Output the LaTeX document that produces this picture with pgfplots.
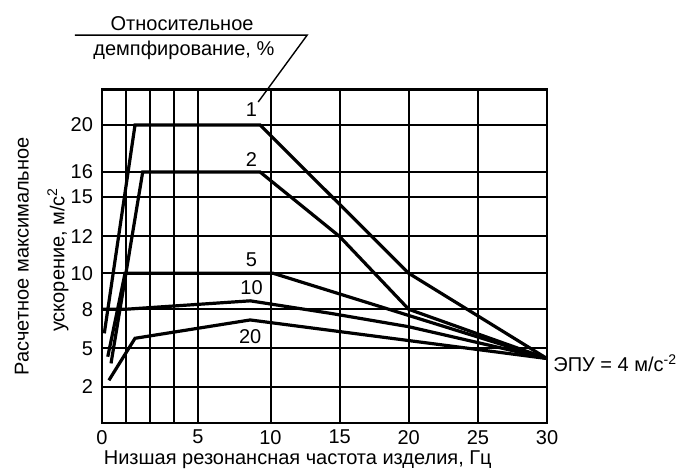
\documentclass[border=0pt]{standalone}
\usepackage{fontspec}
\setmainfont{Liberation Sans}
\usepackage{pgfplots}
\pgfplotsset{compat=1.18}
\begin{document}
\begin{tikzpicture}[font=\fontsize{10}{12}\selectfont]
\useasboundingbox (-51pt,-23.5pt) rectangle (296.5pt,211.5pt);
\begin{axis}[
  scale only axis, width=222.5pt, height=166.75pt,
  at={(0,0)}, anchor=south west,
  x coord trafo/.code={\pgfmathparse{#1<5 ? #1*19.2 : (#1<10 ? 96+(#1-5)*14.5 : 168.5+(#1-10)*13.825)}},
  y coord trafo/.code={\pgfmathparse{#1<5 ? 36.3+(#1-2)*12.8 : (#1<8 ? 74.7+(#1-5)*13 : (#1<10 ? 113.7+(#1-8)*18 : (#1<12 ? 149.7+(#1-10)*18.4 : (#1<15 ? 186.5+(#1-12)*13.17 : (#1<16 ? 226+(#1-15)*25 : 251+(#1-16)*11.75)))))}},
  xmin=0, xmax=30, ymin=-0.836, ymax=23.021,
  axis line style={line width=1.1pt},
  xtick={0,5,10,15,20,25,30}, xticklabels={0,5,10,15,20,25,30},
  ytick={2,5,8,10,12,15,16,20}, yticklabels={2,5,8,10,12,15,16,20},
  yticklabel style={xshift=-1pt},
  extra x ticks={1.25,2.5,3.75}, extra x tick labels={},
  extra x tick style={grid=major},
  grid=major, major grid style={black, line width=1pt},
  major tick length=0pt,
  clip=false,
]
\addplot[black, line width=1.6pt] coordinates {(0.12,6.15) (1.72,20) (9.28,20) (20,10) (30,4.2)};
\addplot[black, line width=1.6pt] coordinates {(0.47,3.82) (2.12,16) (9.28,16) (15,12) (20,8) (30,4.2)};
\addplot[black, line width=1.6pt] coordinates {(0.3,4.34) (1.2,10) (10.2,10) (30,4.2)};
\addplot[black, line width=1.6pt] coordinates {(0,8) (1.2,8) (8.6,8.47) (14.33,7.69) (20,6.66) (30,4.2)};
\addplot[black, line width=1.6pt] coordinates {(0.36,2.5) (1.72,5.77) (8.6,7.18) (30,4.2)};
\node at (rel axis cs:0.336,0.939) {1};
\node at (rel axis cs:0.336,0.789) {2};
\node at (rel axis cs:0.336,0.489) {5};
\node at (rel axis cs:0.336,0.405) {10};
\node at (rel axis cs:0.333,0.259) {20};
\node at (rel axis cs:0.18,1.199) {Относительное};
\node at (rel axis cs:0.184,1.118) {демпфирование, \%};
\draw[line width=0.7pt] (rel axis cs:-0.061,1.163) -- (rel axis cs:0.461,1.163) -- (rel axis cs:0.351,0.9625);
\node[anchor=west, inner sep=0pt] at (rel axis cs:1.0135,0.18) {ЭПУ = 4 м/с\textsuperscript{-2}};
\node[rotate=90] at (rel axis cs:-0.18,0.5) {Расчетное максимальное};
\node[rotate=90] at (rel axis cs:-0.099,0.49) {ускорение, м/с\textsuperscript{2}};
\node at (rel axis cs:0.44,-0.111) {Низшая резонансная частота изделия, Гц};
\end{axis}
\end{tikzpicture}
\end{document}
